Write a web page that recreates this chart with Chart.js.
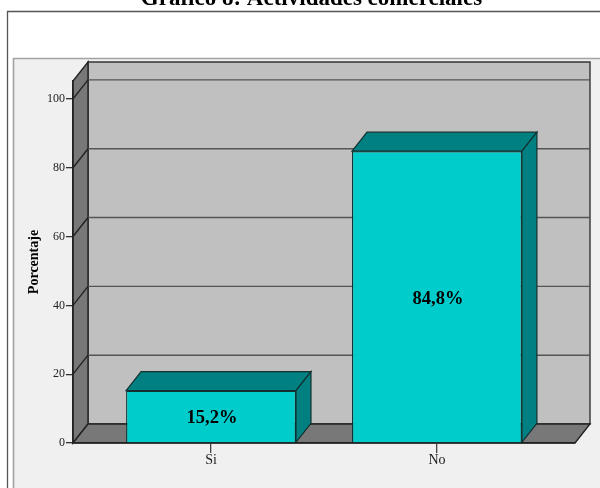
<!DOCTYPE html>
<html>
<head>
<meta charset="utf-8">
<style>html,body{margin:0;padding:0;background:#fff}#w{width:600px;height:488px;position:relative}canvas{display:block}</style>
<script src="https://cdn.jsdelivr.net/npm/chart.js@4"></script>
</head>
<body>
<div id="w"><canvas id="c" width="600" height="488"></canvas></div>
<script>
const categories = ["Si", "No"];
const values = [15.2, 84.8];
const yTickStep = 20;
const titleText = "Gráfico 8: Actividades comerciales";
const yTitle = "Porcentaje";

const DX = 15, DY = 19;
const SERIF = '"Liberation Serif", serif';

function poly(ctx, pts, fill, stroke, lw) {
  ctx.beginPath();
  pts.forEach((p, i) => i ? ctx.lineTo(p[0], p[1]) : ctx.moveTo(p[0], p[1]));
  ctx.closePath();
  ctx.fillStyle = fill; ctx.fill();
  if (stroke) { ctx.strokeStyle = stroke; ctx.lineWidth = lw || 1.5; ctx.stroke(); }
}

const scene = {
  id: 'scene',
  afterLayout(chart) {
    const t = chart.titleBlock;
    if (t) { t.left += 24; t.right += 24; }
  },
  beforeDraw(chart) {
    const ctx = chart.ctx, a = chart.chartArea, W = chart.width, H = chart.height;
    const y = chart.scales.y;
    ctx.save();
    ctx.fillStyle = '#fff'; ctx.fillRect(0, 0, W, H);
    // outer frame
    ctx.strokeStyle = '#555'; ctx.lineWidth = 1.3;
    ctx.beginPath(); ctx.moveTo(7.5, H); ctx.lineTo(7.5, 11.5); ctx.lineTo(W, 11.5); ctx.stroke();
    // panel
    ctx.fillStyle = '#f0f0f0'; ctx.fillRect(13, 58, W - 13, H - 58);
    ctx.strokeStyle = '#a2a2a2'; ctx.lineWidth = 1.6;
    ctx.beginPath(); ctx.moveTo(13.5, H); ctx.lineTo(13.5, 58.5); ctx.lineTo(W, 58.5); ctx.stroke();
    const l = a.left, r = a.right, t = a.top, b = a.bottom;
    // back wall
    poly(ctx, [[l + DX, t - DY], [r + DX, t - DY], [r + DX, b - DY], [l + DX, b - DY]], '#c0c0c0', '#333', 1.4);
    // left wall
    poly(ctx, [[l, b], [l + DX, b - DY], [l + DX, t - DY], [l, t]], '#787878', '#222', 1.4);
    // floor
    poly(ctx, [[l, b], [l + DX, b - DY], [r + DX, b - DY], [r, b]], '#787878', '#222', 1.4);
    // grid lines on back wall and left wall
    ctx.lineWidth = 1.4;
    y.ticks.forEach(tk => {
      if (tk.value === 0) return;
      const py = y.getPixelForValue(tk.value);
      ctx.strokeStyle = '#555';
      ctx.beginPath(); ctx.moveTo(l + DX, py - DY); ctx.lineTo(r + DX, py - DY); ctx.stroke();
      ctx.strokeStyle = '#222';
      ctx.beginPath(); ctx.moveTo(l, py); ctx.lineTo(l + DX, py - DY); ctx.stroke();
    });
    ctx.restore();
  },
  afterDatasetsDraw(chart) {
    const ctx = chart.ctx;
    ctx.save();
    chart.getDatasetMeta(0).data.forEach((el, i) => {
      const x0 = el.x - el.width / 2, x1 = el.x + el.width / 2, top = el.y, base = el.base;
      poly(ctx, [[x0, top], [x0 + DX, top - DY], [x1 + DX, top - DY], [x1, top]], '#008080', '#12302f', 1.2);
      poly(ctx, [[x1, top], [x1 + DX, top - DY], [x1 + DX, base - DY], [x1, base]], '#008080', '#12302f', 1.2);
      ctx.fillStyle = '#000';
      ctx.font = 'bold 18.5px ' + SERIF;
      ctx.textAlign = 'center'; ctx.textBaseline = 'middle';
      ctx.fillText(values[i].toFixed(1).replace('.', ',') + '%', el.x + 1, (top + base) / 2 + 2);
    });
    ctx.restore();
  }
};

new Chart(document.getElementById('c'), {
  type: 'bar',
  data: {
    datasets: [{
      data: categories.map((c, i) => ({ x: i + 1, y: values[i] })),
      backgroundColor: '#00cccc',
      borderColor: '#12302f',
      borderWidth: 1.2,
      barPercentage: 0.752,
      categoryPercentage: 1
    }]
  },
  plugins: [scene],
  options: {
    responsive: false,
    animation: false,
    layout: { padding: { left: 0, right: 25, top: 0, bottom: 0 } },
    plugins: {
      legend: { display: false },
      tooltip: { enabled: false },
      title: {
        display: true,
        text: titleText,
        color: '#000',
        font: { family: SERIF, size: 23, weight: 'bold', lineHeight: 1.2 },
        padding: { top: -14.3, bottom: 67.7 }
      }
    },
    scales: {
      x: {
        type: 'linear',
        offset: false,
        min: 0.389,
        max: 2.611,
        afterBuildTicks: s => { s.ticks = categories.map((c, i) => ({ value: i + 1 })); },
        afterFit: s => { s.height = 45; },
        grid: { offset: false, drawOnChartArea: false, drawTicks: true, tickLength: 10, color: '#444', lineWidth: 1.3 },
        border: { display: true, color: '#222', width: 1.4 },
        ticks: {
          callback: v => categories[v - 1],
          color: '#222', padding: -1, maxRotation: 0,
          font: { family: SERIF, size: 14 }
        }
      },
      y: {
        min: 0,
        max: 105.2,
        afterBuildTicks: s => { s.ticks = s.ticks.filter(t => t.value % yTickStep === 0); },
        afterFit: s => { s.width = 73; },
        grid: { drawOnChartArea: false, drawTicks: true, tickLength: 7, color: '#333', lineWidth: 1.3 },
        border: { display: true, color: '#222', width: 1.4 },
        ticks: {
          stepSize: yTickStep,
          color: '#222', padding: 1,
          font: { family: SERIF, size: 12 }
        },
        title: {
          display: true,
          text: yTitle,
          color: '#000',
          font: { family: SERIF, size: 14, weight: 'bold' },
          padding: { top: 26, bottom: 0 }
        }
      }
    }
  }
});
</script>
</body>
</html>
